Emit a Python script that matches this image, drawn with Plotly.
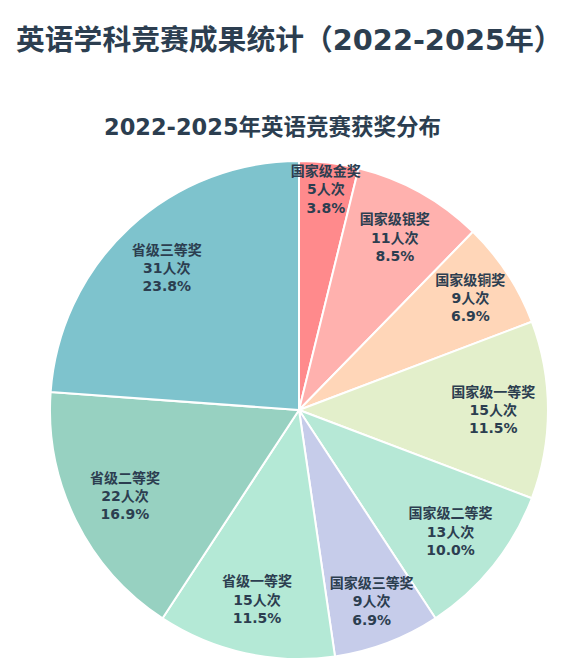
import plotly.graph_objects as go

labels = ["国家级金奖", "国家级银奖", "国家级铜奖", "国家级一等奖", "国家级二等奖",
          "国家级三等奖", "省级一等奖", "省级二等奖", "省级三等奖"]
values = [5, 11, 9, 15, 13, 9, 15, 22, 31]
colors = ["#FF8A8C", "#FFB1AE", "#FFD6B8", "#E3EFCB", "#B6E8D6",
          "#C6CCEA", "#B4E9D6", "#97D1C1", "#7EC3CD"]

title_text = "英语学科竞赛成果统计（2022-2025年）"
subtitle_text = "2022-2025年英语竞赛获奖分布"

W, H = 571, 660
font_fam = "DejaVu Sans, Noto Sans CJK SC, sans-serif"
dark = "#2c3e50"
dom = dict(x=[50 / W, 548 / W], y=[1 - 659 / H, 1 - 161 / H])

fig = go.Figure()
# slices
fig.add_trace(go.Pie(
    labels=labels, values=values, sort=False, direction="clockwise", rotation=0,
    marker=dict(colors=colors, line=dict(color="white", width=2)),
    textinfo="none", domain=dom, showlegend=False,
    hoverinfo="label+value+percent",
))
# transparent ring carrying the labels at ~0.79 R
fig.add_trace(go.Pie(
    labels=labels, values=values, sort=False, direction="clockwise", rotation=0,
    hole=0.56,
    marker=dict(colors=["rgba(0,0,0,0)"] * len(values), line=dict(width=0)),
    texttemplate="<b>%{label}<br>%{value}人次<br>%{percent:.1%}</b>",
    textposition="inside", insidetextorientation="horizontal",
    textfont=dict(family=font_fam, size=14, color=dark),
    domain=dom, showlegend=False, hoverinfo="skip",
))

fig.update_layout(
    width=W, height=H, margin=dict(l=0, r=0, t=0, b=0),
    paper_bgcolor="white", plot_bgcolor="white",
    uniformtext=dict(minsize=14, mode="show"),
    annotations=[
        dict(text="<b>" + title_text + "</b>", x=289.5 / W, y=1 - 40 / H, xref="paper", yref="paper",
             showarrow=False, font=dict(family=font_fam, size=28.8, color=dark), xanchor="center", yanchor="middle"),
        dict(text="<b>" + subtitle_text + "</b>", x=272.5 / W, y=1 - 127.5 / H, xref="paper", yref="paper",
             showarrow=False, font=dict(family=font_fam, size=22.5, color=dark), xanchor="center", yanchor="middle"),
    ],
)

fig.write_html("out.html")
